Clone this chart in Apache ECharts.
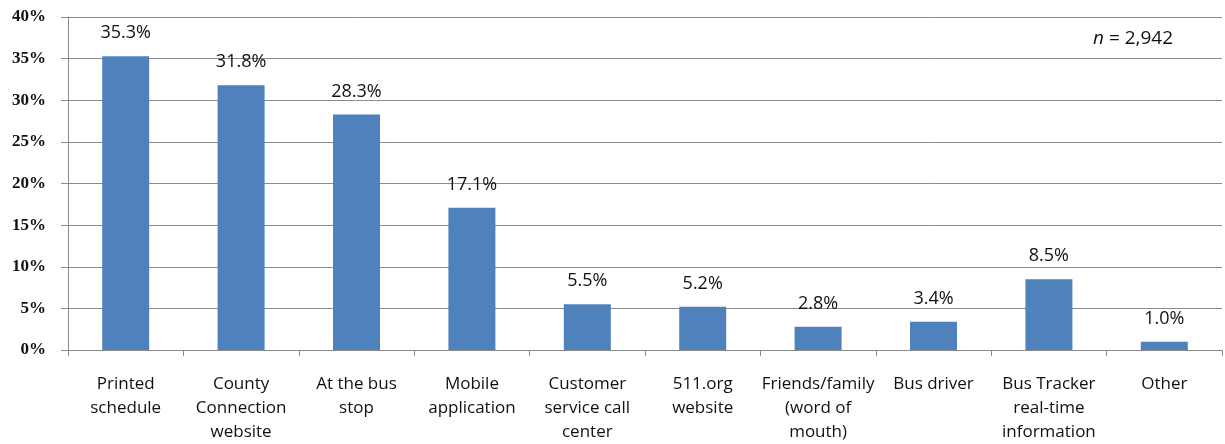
<!DOCTYPE html>
<html>
<head>
<meta charset="utf-8">
<script src="https://cdn.jsdelivr.net/npm/echarts@6/dist/echarts.min.js"></script>
<style>
html, body { margin: 0; padding: 0; background: #fff; overflow: hidden; }
#chart { width: 1225px; height: 444px; }
</style>
</head>
<body>
<div id="chart"></div>
<script>
// Information sources used by riders (share of respondents)
const categories = [
  'Printed\nschedule',
  'County\nConnection\nwebsite',
  'At the bus\nstop',
  'Mobile\napplication',
  'Customer\nservice call\ncenter',
  '511.org\nwebsite',
  'Friends/family\n(word of\nmouth)',
  'Bus driver',
  'Bus Tracker\nreal-time\ninformation',
  'Other'
];
const shares = [35.3, 31.8, 28.3, 17.1, 5.5, 5.2, 2.8, 3.4, 8.5, 1.0];
const sampleSize = '2,942';

const textFont = 'Open Sans, Liberation Sans, sans-serif';

const chart = echarts.init(document.getElementById('chart'));
chart.setOption({
  animation: false,
  backgroundColor: '#ffffff',
  grid: { left: 68, right: 3, top: 17, bottom: 88, containLabel: false },
  xAxis: {
    type: 'category',
    data: categories,
    axisLine: { lineStyle: { color: '#8a8a8a', width: 1 } },
    axisTick: { show: true, alignWithLabel: false, length: 6, lineStyle: { color: '#8a8a8a' } },
    axisLabel: {
      interval: 0,
      margin: 22,
      color: '#111111',
      fontFamily: textFont,
      fontSize: 17,
      lineHeight: 24
    }
  },
  yAxis: {
    type: 'value',
    min: 0,
    max: 40,
    interval: 5,
    axisLine: { show: true, lineStyle: { color: '#8a8a8a', width: 1 } },
    axisTick: { show: true, length: 7, lineStyle: { color: '#8a8a8a' } },
    splitLine: { show: true, lineStyle: { color: '#8a8a8a', width: 1 } },
    axisLabel: {
      margin: 22,
      color: '#111111',
      fontFamily: 'Liberation Serif, serif',
      fontWeight: 'bold',
      fontSize: 17,
      formatter: v => v + '%'
    }
  },
  series: [{
    type: 'bar',
    data: shares,
    barWidth: 47,
    itemStyle: { color: '#4f81bd' },
    label: {
      show: true,
      position: 'top',
      distance: 14,
      color: '#111111',
      fontFamily: textFont,
      fontSize: 18,
      formatter: p => p.value.toFixed(1) + '%'
    }
  }],
  graphic: [{
    type: 'text',
    left: 1093,
    top: 29,
    style: {
      text: '{i|n} = ' + sampleSize,
      rich: {
        i: { fontStyle: 'italic', fontSize: 19, fontFamily: textFont, fill: '#111111' }
      },
      fontSize: 19,
      fontFamily: textFont,
      fill: '#111111'
    }
  }]
});
</script>
</body>
</html>
